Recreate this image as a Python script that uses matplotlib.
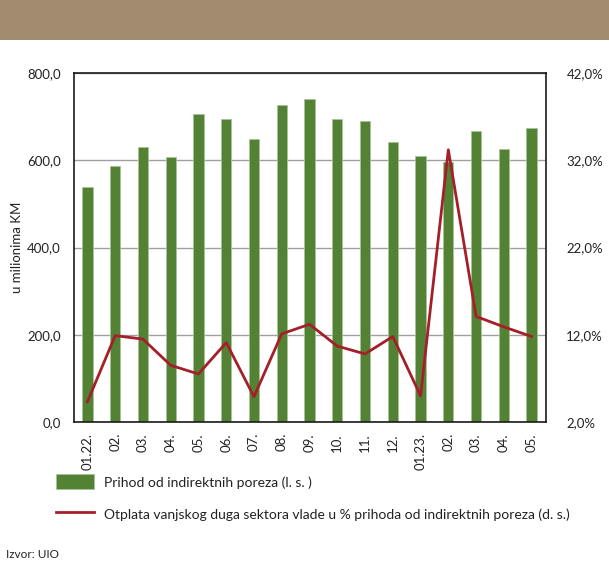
import matplotlib
matplotlib.use("Agg")
import matplotlib.pyplot as plt
import numpy as np
from matplotlib.patches import Rectangle
from matplotlib.lines import Line2D

plt.rcParams['font.family'] = ['Lato', 'DejaVu Sans']

categories = ["01.22.", "02.", "03.", "04.", "05.", "06.", "07.", "08.", "09.",
              "10.", "11.", "12.", "01.23.", "02.", "03.", "04.", "05."]
revenue = [538, 587, 631, 607, 706, 694, 648, 726, 741,
           694, 689, 642, 610, 596, 668, 625, 674]
debt_share = [4.3, 11.9, 11.5, 8.5, 7.5, 11.1, 4.9, 12.1, 13.2,
              10.7, 9.8, 11.8, 5.0, 33.2, 14.1, 12.9, 11.8]
left_ticks = [0, 200, 400, 600, 800]
left_labels = ["0,0", "200,0", "400,0", "600,0", "800,0"]
right_ticks = [2, 12, 22, 32, 42]
right_labels = ["2,0%", "12,0%", "22,0%", "32,0%", "42,0%"]
bar_label = "Prihod od indirektnih poreza (l. s. )"
line_label = "Otplata vanjskog duga sektora vlade u % prihoda od indirektnih poreza (d. s.)"
ylabel = "u milionima KM"
source = "Izvor: UIO"

W, H = 609, 565
fig = plt.figure(figsize=(W / 100, H / 100), dpi=100)
fig.patch.set_facecolor("white")

# banner
fig.patches.append(Rectangle((0, 1 - 40 / H), 1, 40 / H, transform=fig.transFigure,
                             facecolor="#A38B70", edgecolor="none", zorder=0))

left, right, top, bottom = 73.5, 545.5, 73, 422
ax = fig.add_axes([left / W, 1 - bottom / H, (right - left) / W, (bottom - top) / H])
x = np.arange(len(categories))
bar_color = "#548235"
line_color = "#A51F2A"
ax.bar(x, revenue, width=0.37, color=bar_color, edgecolor="#A6C496", linewidth=0.6, zorder=2)
ax.set_xlim(-0.5, len(categories) - 0.5)
ax.set_ylim(0, 800)
ax.set_yticks(left_ticks)
ax.set_yticklabels(left_labels)
ax.set_xticks(x)
ax.set_xticklabels(categories, rotation=90, va="top", ha="center")
ax.tick_params(axis="both", length=0, labelsize=9.5, colors="#222222")
ax.tick_params(axis="y", pad=9)
ax.tick_params(axis="x", pad=8)
ax.grid(axis="y", color="#A0A0A0", linewidth=1.0, zorder=1)
ax.set_axisbelow(True)
for s in ax.spines.values():
    s.set_color("#1a1a1a")
    s.set_linewidth(1.2)
ax.set_ylabel(ylabel, fontsize=9.5, color="#222222", labelpad=3)

ax2 = ax.twinx()
ax2.plot(x, debt_share, color=line_color, linewidth=2.0, zorder=3)
ax2.set_ylim(2, 42)
ax2.set_yticks(right_ticks)
ax2.set_yticklabels(right_labels)
ax2.tick_params(axis="y", length=0, labelsize=9.5, pad=15, colors="#222222")
for s in ax2.spines.values():
    s.set_visible(False)

# legend (manual)
fig.patches.append(Rectangle((56 / W, 1 - 489 / H), 38 / W, 15 / H, transform=fig.transFigure,
                             facecolor=bar_color, edgecolor="#A6C496", linewidth=0.6))
fig.lines.append(Line2D([56 / W, 94 / W], [1 - 512 / H, 1 - 512 / H], transform=fig.transFigure,
                        color=line_color, linewidth=2.0))
fig.text(104 / W, 1 - 483 / H, bar_label, fontsize=10, va="center", ha="left", color="#222222")
fig.text(104 / W, 1 - 515 / H, line_label, fontsize=10, va="center", ha="left", color="#222222")
fig.text(6 / W, 1 - 555 / H, source, fontsize=8.5, va="center", ha="left", color="#222222")

fig.savefig("out.png", dpi=100)
